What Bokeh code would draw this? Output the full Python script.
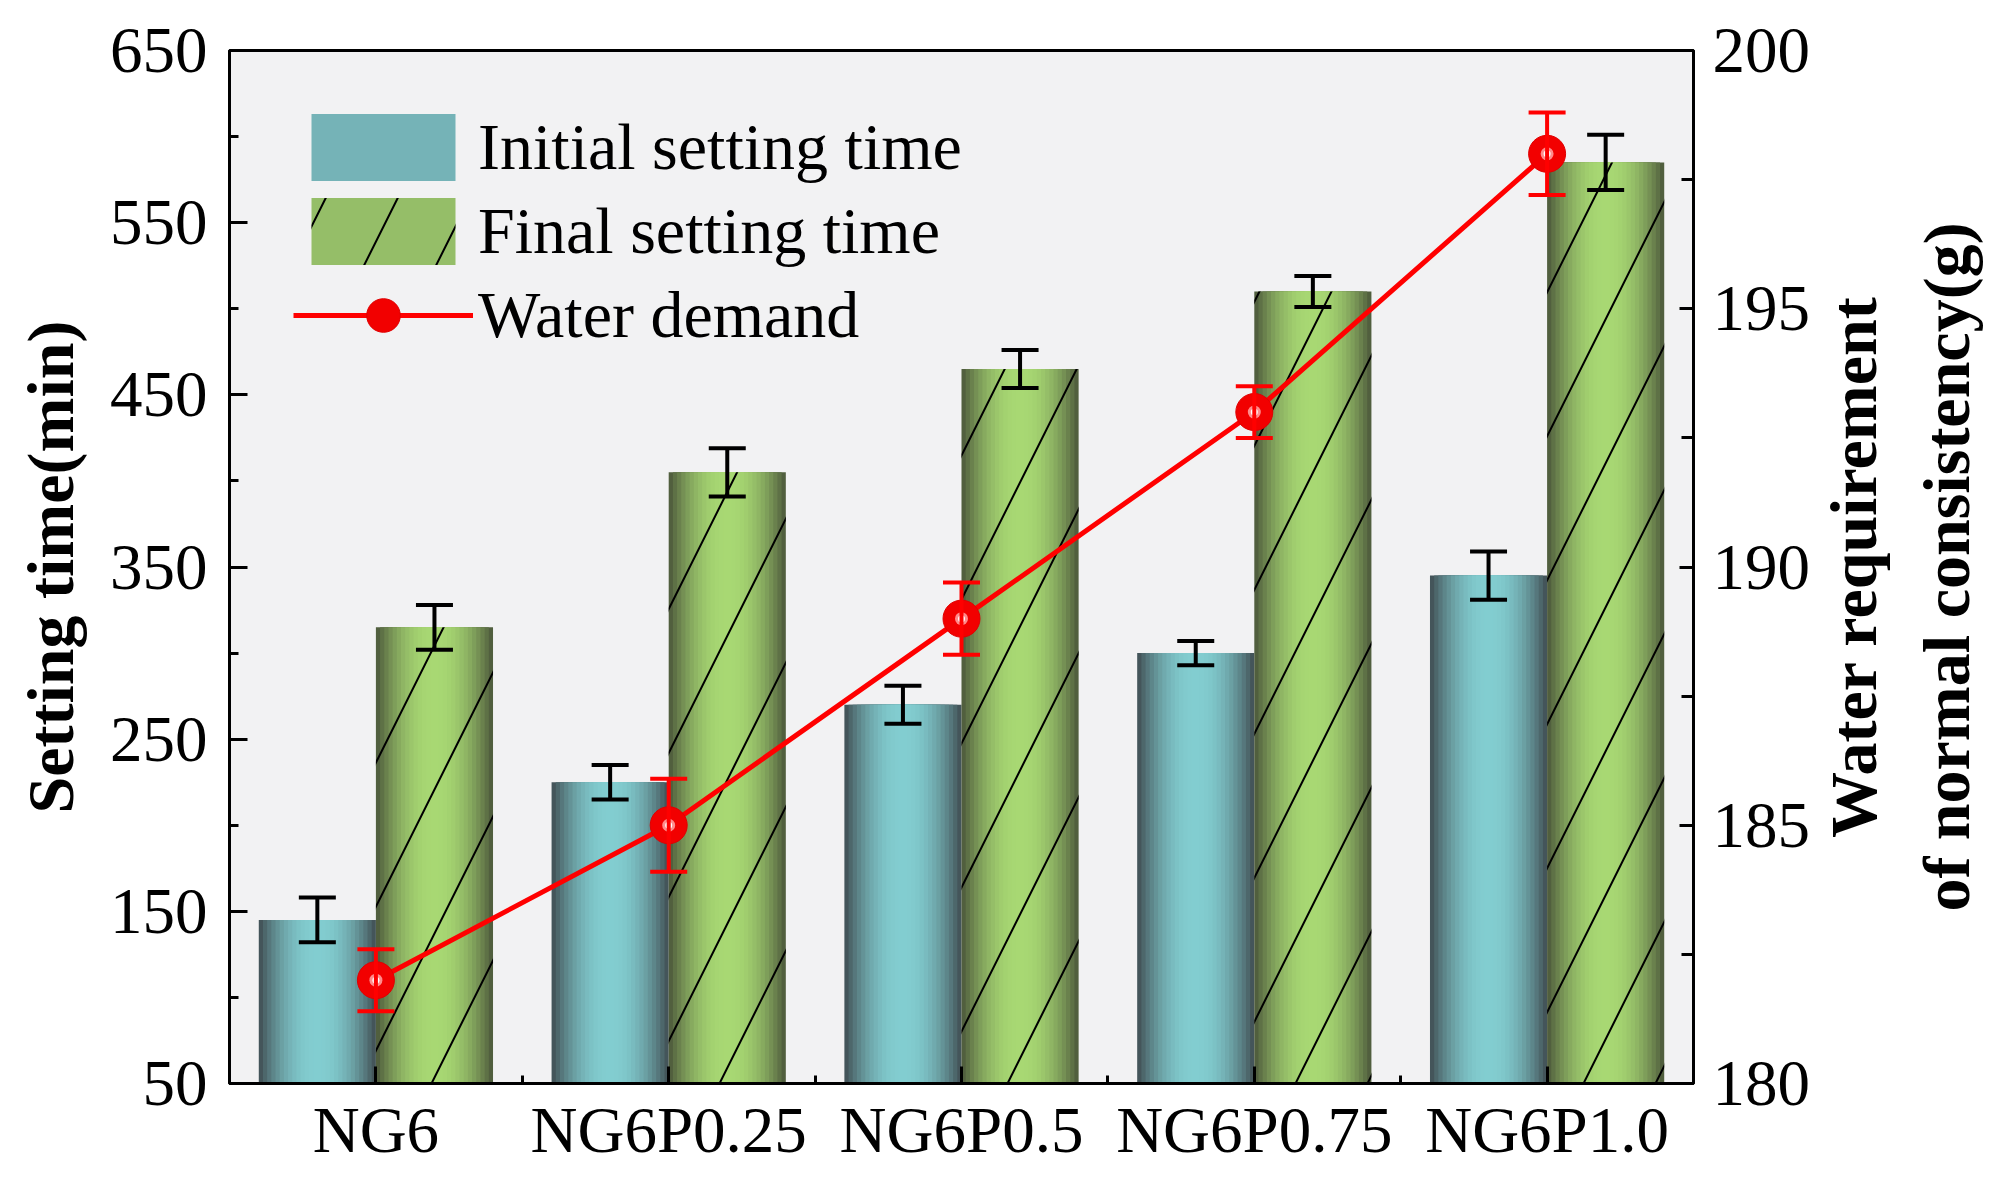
import numpy as np
from bokeh.plotting import figure
from bokeh.layouts import row
from bokeh.models import (Range1d, LinearAxis, FixedTicker, ColumnDataSource,
                          Whisker, TeeHead, Legend, LegendItem)
from bokeh.embed import file_html
from bokeh.resources import INLINE

# ---------------- data ----------------
categories = ["NG6", "NG6P0.25", "NG6P0.5", "NG6P0.75", "NG6P1.0"]
initial_time = [145, 225, 270, 300, 345]
initial_err = [13, 10, 11, 7, 14]
final_time = [315, 405, 465, 510, 585]
final_err = [13, 14, 11, 9, 16]
water_demand = [182, 185, 189, 193, 198]
water_err = [0.6, 0.9, 0.7, 0.5, 0.8]

left_ticks = [50, 150, 250, 350, 450, 550, 650]
left_minor = [100, 200, 300, 400, 500, 600]
right_ticks = [180, 185, 190, 195, 200]
right_minor = [182.5, 187.5, 192.5, 197.5]

right_title = "Water requirement\nof normal consistency(g)"

FONT = "Liberation Serif"

# ---------------- helpers ----------------
def hex2rgb(h):
    h = h.lstrip("#")
    return [int(h[i:i + 2], 16) for i in (0, 2, 4)]

def mix(c1, c2, f):
    a, b = hex2rgb(c1), hex2rgb(c2)
    return "#%02x%02x%02x" % tuple(int(round(a[i] + (b[i] - a[i]) * f)) for i in range(3))

n = len(categories)
xc = np.arange(1, n + 1, dtype=float)
bar_w = 0.4
x_init = xc - bar_w / 2
x_final = xc + bar_w / 2
init_arr = np.array(initial_time, dtype=float)
final_arr = np.array(final_time, dtype=float)
water_arr = np.array(water_demand, dtype=float)

TOTAL_W, TOTAL_H = 1990, 1178
BL, BT, BB = 229, 50, 95
FRAME_RIGHT = 1693
MAIN_W = FRAME_RIGHT + 130
SIDE_W = TOTAL_W - MAIN_W

p = figure(width=MAIN_W, height=TOTAL_H, output_backend="svg", toolbar_location=None,
           x_range=Range1d(0.5, n + 0.5), y_range=Range1d(50, 650),
           min_border_left=BL, min_border_right=MAIN_W - FRAME_RIGHT,
           min_border_top=BT, min_border_bottom=BB)
p.extra_y_ranges = {"right": Range1d(180, 200)}
p.grid.visible = False
p.background_fill_color = "#F2F2F3"
p.border_fill_color = "white"
p.outline_line_color = "black"
p.outline_line_width = 3
p.outline_line_alpha = 1

# ---------------- gradient bars ----------------
N = 14
init_edge, init_center = "#44555A", "#82CDD0"
final_edge, final_center = "#515F3E", "#A8D873"
init_legend_r = None
final_legend_r = None
for k in range(N):
    frac = 1 - k / N
    f = 1 - (1 - k / (N - 1)) ** 2.0
    r1 = p.vbar(x=x_init, top=init_arr, bottom=0, width=bar_w * frac,
                fill_color=mix(init_edge, init_center, f), line_alpha=0)
    r2 = p.vbar(x=x_final, top=final_arr, bottom=0, width=bar_w * frac,
                fill_color=mix(final_edge, final_center, f), line_alpha=0)
    if k == N // 2:
        init_legend_r, final_legend_r = r1, r2

hatch_r = p.vbar(x=x_final, top=final_arr, bottom=0, width=bar_w,
                 fill_alpha=0, line_alpha=0, hatch_pattern="/",
                 hatch_color="black", hatch_scale=144, hatch_weight=2)

# ---------------- error bars ----------------
def add_whisker(xs, ys, errs, color, range_name=None):
    ys = np.array(ys, dtype=float)
    errs = np.array(errs, dtype=float)
    src = ColumnDataSource(dict(x=xs, upper=ys + errs, lower=ys - errs))
    kw = {}
    if range_name:
        kw["y_range_name"] = range_name
    w = Whisker(source=src, base="x", upper="upper", lower="lower",
                line_color=color, line_width=4, level="glyph",
                upper_head=TeeHead(size=37, line_color=color, line_width=4),
                lower_head=TeeHead(size=37, line_color=color, line_width=4), **kw)
    p.add_layout(w)

add_whisker(x_init, initial_time, initial_err, "black")
add_whisker(x_final, final_time, final_err, "black")
add_whisker(xc, water_demand, water_err, "#FF0000", "right")

# ---------------- water demand line ----------------
line_r = p.line(xc, water_arr, y_range_name="right", line_color="#FF0000", line_width=5)
dot_r = p.scatter(xc, water_arr, y_range_name="right", size=37,
                  fill_color="#F20000", line_color="#E00000", line_width=1)
hl1 = p.scatter(xc, water_arr, y_range_name="right", size=13,
                fill_color="#FF8C8C", line_alpha=0)
hl2 = p.scatter(xc, water_arr, y_range_name="right", size=7,
                fill_color="white", line_alpha=0)

# ---------------- axes ----------------
def style_axis(ax):
    ax.axis_line_color = "black"
    ax.axis_line_width = 3
    ax.major_tick_line_color = "black"
    ax.major_tick_line_width = 3
    ax.minor_tick_line_color = "black"
    ax.minor_tick_line_width = 3
    ax.major_tick_out = 0
    ax.minor_tick_out = 0
    ax.major_label_text_font = FONT
    ax.major_label_text_font_size = "65px"
    ax.major_label_text_color = "black"
    ax.axis_label_text_font = FONT
    ax.axis_label_text_font_size = "66px"
    ax.axis_label_text_font_style = "bold"
    ax.axis_label_text_color = "black"

xa = p.xaxis[0]
style_axis(xa)
xa.ticker = FixedTicker(ticks=list(xc), minor_ticks=list(xc[:-1] + 0.5))
xa.major_label_overrides = {float(v): c for v, c in zip(xc, categories)}
xa.major_tick_in = 17
xa.minor_tick_in = 8
xa.major_label_standoff = 10

ya = p.yaxis[0]
style_axis(ya)
ya.ticker = FixedTicker(ticks=left_ticks, minor_ticks=left_minor)
ya.major_tick_in = 18
ya.minor_tick_in = 9
ya.major_label_standoff = 22
ya.axis_label = "Setting time(min)"
ya.axis_label_standoff = 20

yr = LinearAxis(y_range_name="right")
style_axis(yr)
yr.ticker = FixedTicker(ticks=right_ticks, minor_ticks=right_minor)
yr.major_tick_in = 14
yr.minor_tick_in = 12
yr.major_label_standoff = 19
p.add_layout(yr, "right")

# ---------------- legend ----------------
legend = Legend(items=[
    LegendItem(label="Initial setting time", renderers=[init_legend_r]),
    LegendItem(label="Final setting time", renderers=[final_legend_r, hatch_r]),
    LegendItem(label="Water demand", renderers=[line_r, dot_r]),
], location=(64, 726), glyph_width=180, glyph_height=84, label_standoff=5,
    spacing=0, padding=0, margin=0, border_line_alpha=0,
    background_fill_alpha=0, label_text_font=FONT,
    label_text_font_size="66px", label_height=70, label_text_color="black")
p.add_layout(legend)

# ---------------- right-hand title: label of a bare axis in a narrow panel ----------------
p2 = figure(width=SIDE_W, height=TOTAL_H, output_backend="svg", toolbar_location=None,
            x_range=Range1d(0, 1), y_range=Range1d(180, 200),
            x_axis_location=None, y_axis_location="left",
            min_border_left=SIDE_W - 2, min_border_right=0, min_border_top=BT,
            min_border_bottom=BB)
p2.grid.visible = False
p2.outline_line_alpha = 0
p2.background_fill_color = "white"
p2.border_fill_color = "white"
ta = p2.yaxis[0]
style_axis(ta)
ta.ticker = FixedTicker(ticks=[])
ta.axis_line_alpha = 0
ta.major_tick_in = 0
ta.minor_tick_in = 0
ta.major_label_standoff = 0
ta.axis_label = right_title
ta.axis_label_standoff = 8
ta.axis_label_text_line_height = 1.27

layout = row(p, p2)
open("out.html", "w").write(file_html(layout, INLINE))
